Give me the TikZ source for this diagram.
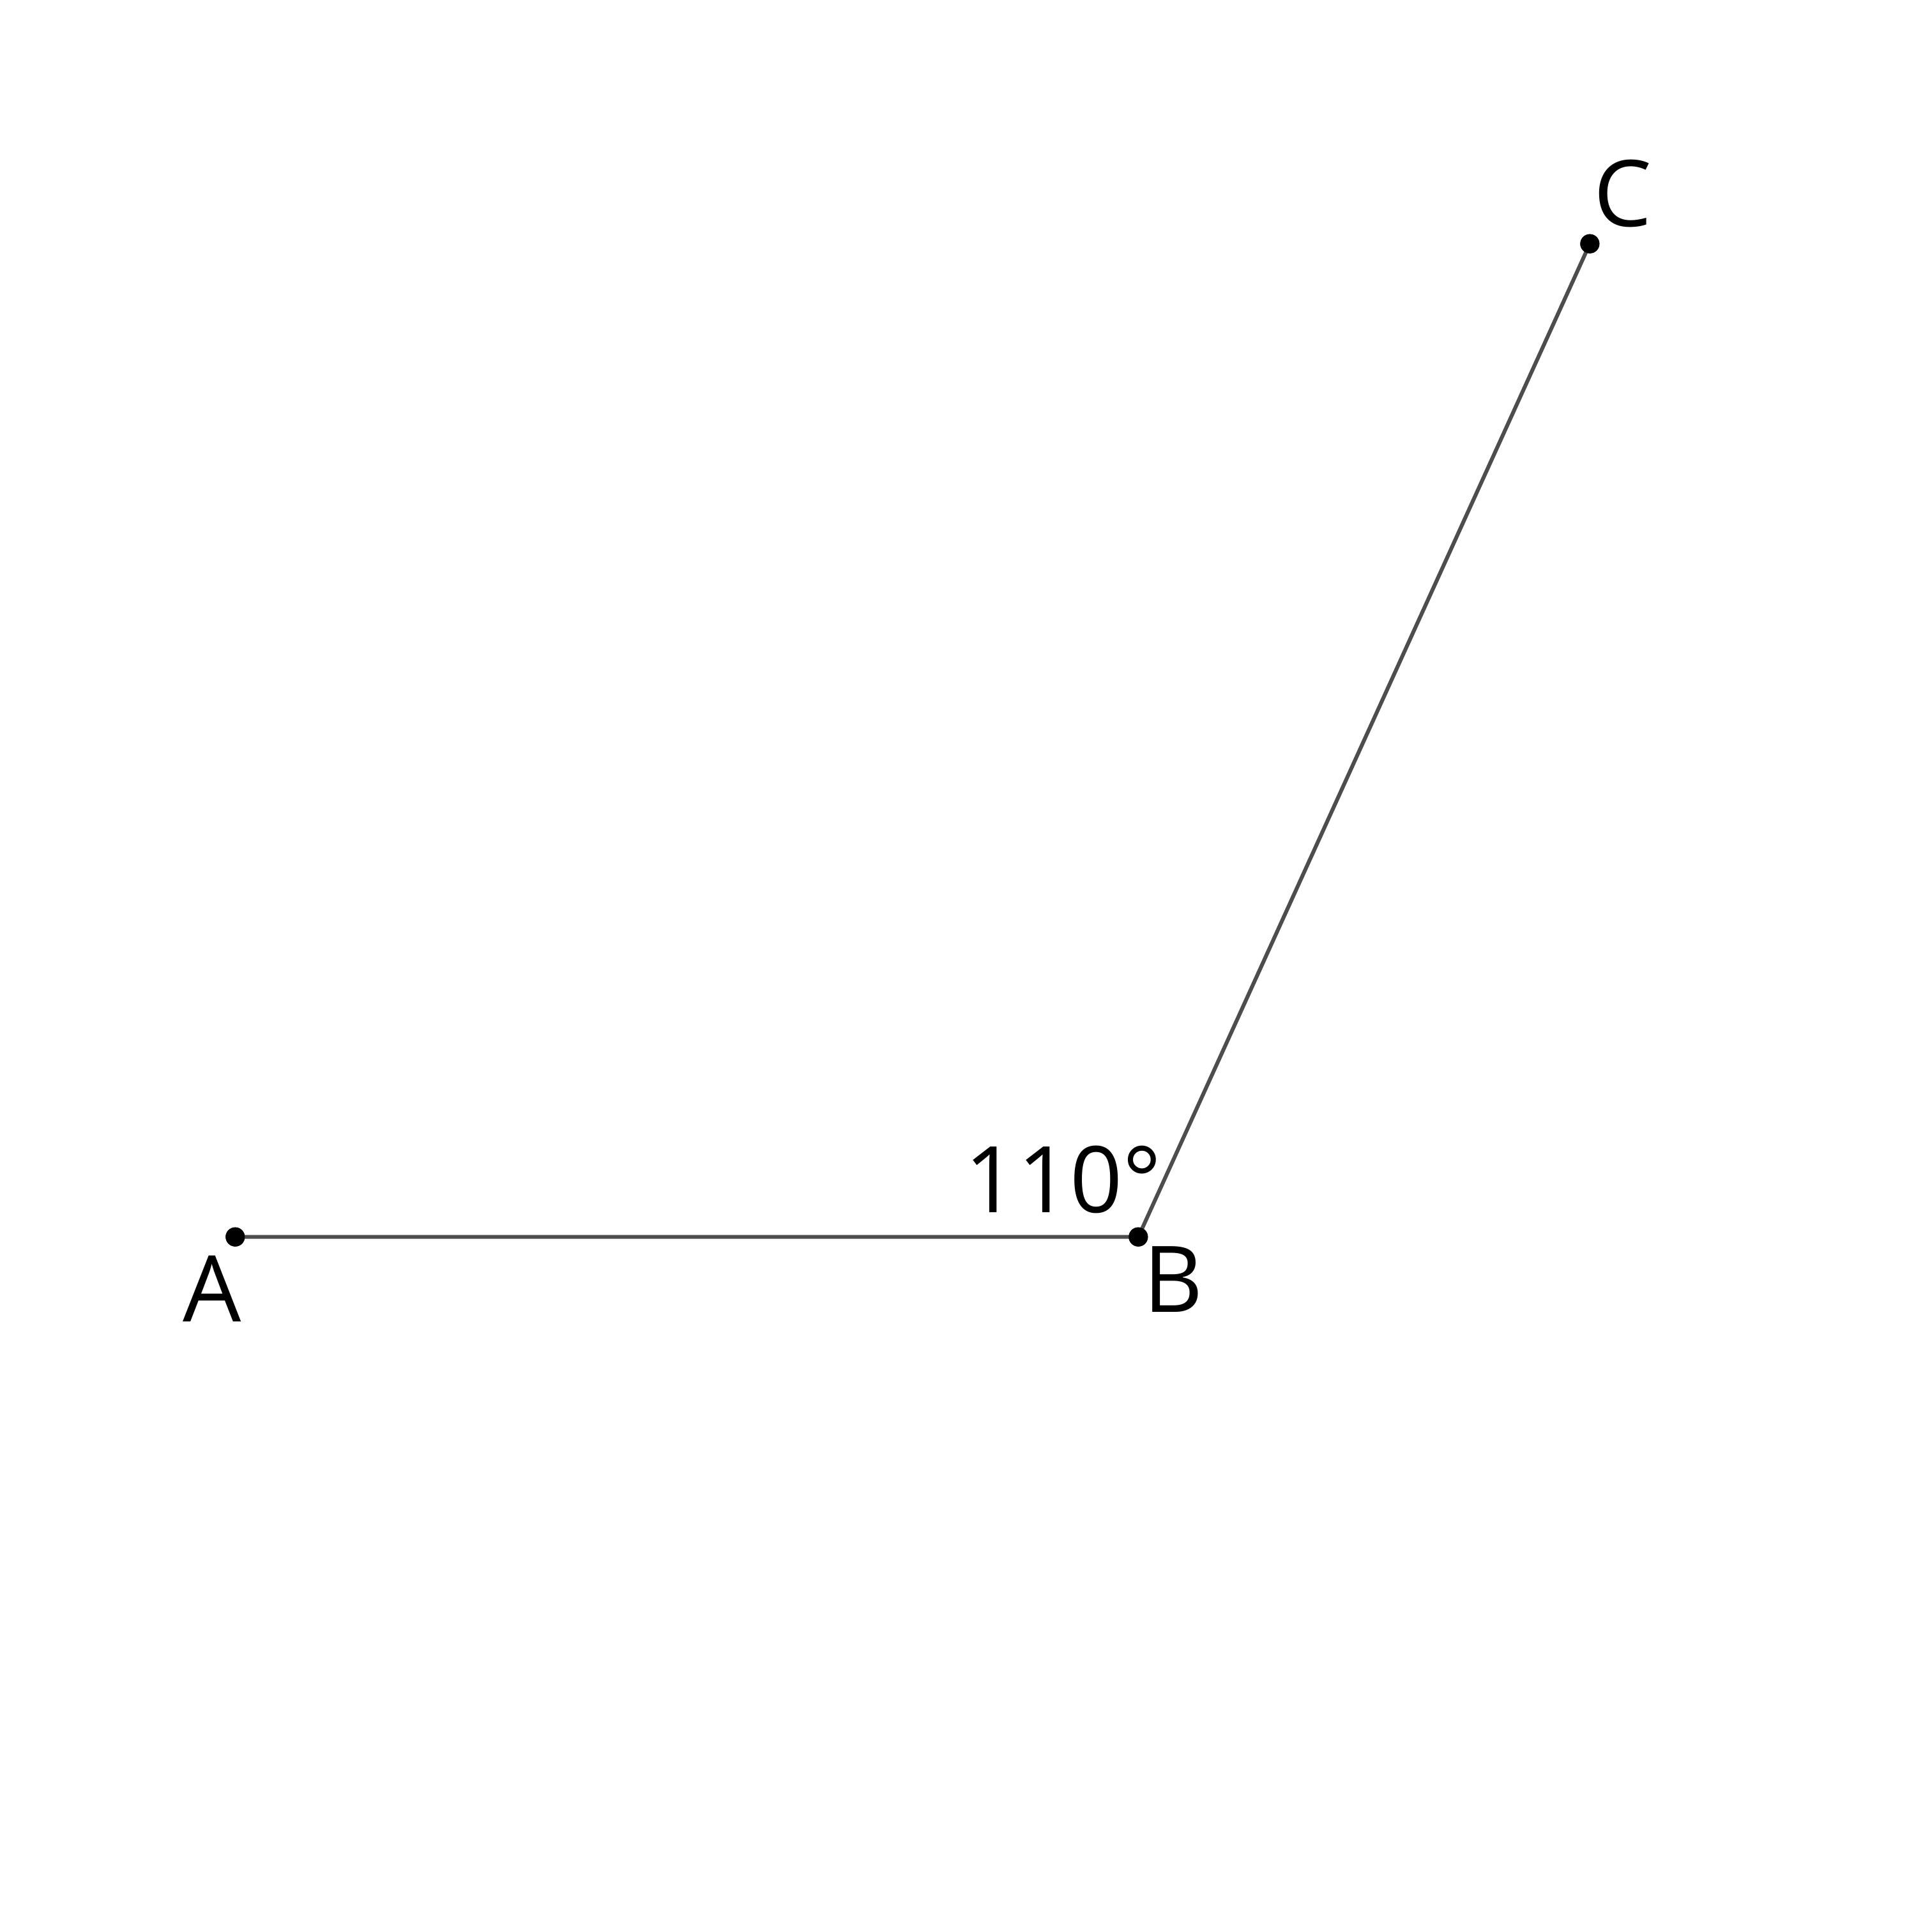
\documentclass[tikz,border=0pt]{standalone}
\usepackage{fontspec}
\setmainfont{Open Sans}
\usepackage{xcolor}
\usetikzlibrary{positioning}
\definecolor{segcol}{HTML}{4D4D4D}

\begin{document}
\begin{tikzpicture}[font=\fontsize{41}{41}\selectfont,
  pt/.style={circle, fill=black, inner sep=0pt, minimum size=0.3cm},
  lbl/.style={inner sep=0pt, anchor=base west},
  seg/.style={segcol, line width=0.06cm}]
  \useasboundingbox (0,0) rectangle (30,30.25);
  % Points
  \node[pt] (A) at (3.683,10.883) {};
  \node[pt] (B) at (17.823,10.883) {};
  \node[pt] (C) at (24.893,26.433) {};
  % Segments
  \draw[seg] (A.center) -- (B.center) -- (C.center);
  \node[pt] at (A) {};
  \node[pt] at (B) {};
  \node[pt] at (C) {};
  % Labels
  \node[lbl] (labA) at (2.86,9.55) {A};
  \node[lbl] (labB) at (17.90,9.70) {B};
  \node[lbl] (labC) at (24.95,26.70) {C};
  \node[lbl] (ang) at (15.10,11.267) {110°};
\end{tikzpicture}
\end{document}
